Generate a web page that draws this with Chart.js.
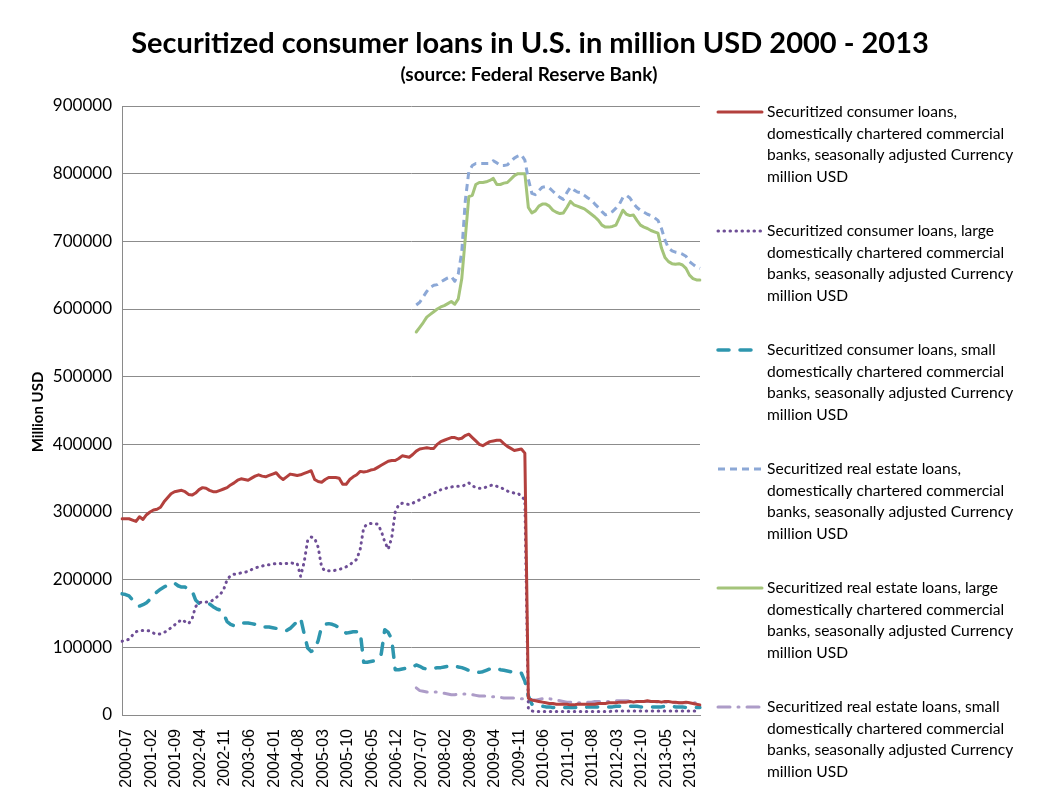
<!DOCTYPE html>
<html>
<head>
<meta charset="utf-8">
<title>Securitized consumer loans</title>
<script src="https://cdn.jsdelivr.net/npm/chart.js@4.4.1/dist/chart.umd.min.js"></script>
<style>
  html, body { margin: 0; padding: 0; background: #fff; }
  #wrap { width: 1039px; height: 794px; }
</style>
</head>
<body>
<div id="wrap"><canvas id="loans-chart" width="1039" height="794"></canvas></div>
<script>
// monthly categories 2000-07 .. 2014-04
const months = [];
let yr = 2000, mo = 7;
while (months.length < 166) {
    months.push(yr + '-' + String(mo).padStart(2, '0'));
    mo++;
    if (mo > 12) { mo = 1; yr++; }
}

const tickLabels = ['2000-07', '2001-02', '2001-09', '2002-04', '2002-11', '2003-06', '2004-01', '2004-08',
    '2005-03', '2005-10', '2006-05', '2006-12', '2007-07', '2008-02', '2008-09', '2009-04', '2009-11',
    '2010-06', '2011-01', '2011-08', '2012-03', '2012-10', '2013-05', '2013-12'];

const yTicks = [0, 100000, 200000, 300000, 400000, 500000, 600000, 700000, 800000, 900000];

// consumer loans, all domestically chartered banks (2000-07 .. 2014-04)
const consumerAll = [
    290000, 290000, 290000, 288000, 286000, 293000, 289000, 296000, 300000, 303000,
    304000, 307000, 315000, 321000, 327000, 330000, 331000, 332000, 330000, 326000,
    325000, 328000, 333000, 336000, 335000, 332000, 330000, 330000, 332000, 334000,
    336000, 340000, 343000, 347000, 349000, 348000, 347000, 350000, 353000, 355000,
    353000, 352000, 354000, 356000, 358000, 352000, 348000, 352000, 356000, 355000,
    354000, 355000, 357000, 359000, 361000, 348000, 345000, 344000, 348000, 351000,
    351000, 351000, 350000, 341000, 341000, 348000, 352000, 355000, 360000, 359000,
    360000, 362000, 363000, 366000, 369000, 372000, 375000, 376000, 376000, 379000,
    383000, 382000, 381000, 385000, 390000, 393000, 394000, 395000, 394000, 394000,
    400000, 404000, 406000, 408000, 410000, 410000, 408000, 409000, 413000, 415000,
    410000, 405000, 400000, 398000, 401000, 404000, 405000, 406000, 406000, 401000,
    397000, 394000, 391000, 392000, 393000, 387000,
    25000, 22000, 21000, 20000, 19000, 18000, 17000, 17000, 16000, 16000,
    16000, 16000, 15000, 15000, 16000, 16000, 16000, 16000, 16000, 16000,
    17000, 17000, 17000, 18000, 18000, 18000, 19000, 19000, 19000, 20000,
    19000, 20000, 20000, 20000, 21000, 20000, 20000, 20000, 19000, 20000,
    20000, 19000, 19000, 18000, 18000, 19000, 18000, 17000, 16000, 15000
];

// consumer loans, large banks
const consumerLarge = [
    109000, 110000, 112000, 118000, 123000, 125000, 125000, 125000, 124000, 121000,
    119000, 120000, 122000, 125000, 129000, 133000, 137000, 141000, 138000, 135000,
    142000, 160000, 166000, 167000, 167000, 167000, 170000, 174000, 178000, 185000,
    200000, 206000, 208000, 209000, 210000, 211000, 212000, 215000, 217000, 219000,
    220000, 222000, 222000, 223000, 224000, 224000, 223000, 224000, 225000, 224000,
    224000, 205000, 226000, 258000, 263000, 261000, 248000, 218000, 213000, 213000,
    213000, 214000, 215000, 217000, 219000, 222000, 226000, 230000, 245000, 277000,
    282000, 283000, 283000, 282000, 272000, 256000, 245000, 262000, 300000, 311000,
    313000, 312000, 311000, 313000, 316000, 318000, 321000, 323000, 326000, 328000,
    330000, 333000, 334000, 336000, 337000, 338000, 338000, 338000, 340000, 343000,
    339000, 336000, 335000, 335000, 337000, 339000, 340000, 338000, 336000, 334000,
    331000, 329000, 328000, 328000, 323000, 318000,
    9000, 6000, 5000, 5000, 5000, 5000, 5000, 5000, 5000, 5000,
    5000, 5000, 5000, 5000, 5000, 5000, 5000, 5000, 5000, 5000,
    5000, 5000, 5000, 5000, 6000, 6000, 6000, 6000, 6000, 6000,
    6000, 6000, 6000, 6000, 6000, 6000, 6000, 6000, 6000, 6000,
    6000, 6000, 6000, 6000, 6000, 6000, 6000, 6000, 6000, 6000
];

// consumer loans, small banks
const consumerSmall = [
    179000, 178000, 176000, 170000, 165000, 161000, 163000, 166000, 171000, 177000,
    182000, 186000, 189000, 192000, 194000, 195000, 191000, 189000, 189000, 186000,
    184000, 170000, 165000, 165000, 164000, 164000, 160000, 157000, 155000, 150000,
    138000, 134000, 132000, 134000, 136000, 136000, 136000, 135000, 134000, 132000,
    130000, 130000, 130000, 129000, 128000, 127000, 125000, 125000, 128000, 133000,
    138000, 143000, 120000, 99000, 94000, 96000, 110000, 131000, 134000, 135000,
    134000, 132000, 129000, 126000, 121000, 122000, 123000, 123000, 123000, 78000,
    78000, 79000, 80000, 82000, 90000, 126000, 122000, 112000, 67000, 67000,
    68000, 69000, 69000, 71000, 74000, 72000, 69000, 68000, 68000, 69000,
    70000, 70000, 71000, 72000, 73000, 72000, 71000, 70000, 68000, 66000,
    65000, 64000, 63000, 64000, 66000, 68000, 69000, 69000, 67000, 66000,
    65000, 64000, 63000, 63000, 62000, 50000,
    28000, 16000, 15000, 14000, 13000, 12000, 12000, 11000, 11000, 11000,
    11000, 11000, 11000, 11000, 11000, 11000, 11000, 12000, 12000, 12000,
    12000, 12000, 12000, 12000, 12000, 13000, 13000, 13000, 13000, 13000,
    13000, 13000, 12000, 12000, 12000, 12000, 12000, 12000, 12000, 13000,
    13000, 13000, 12000, 12000, 12000, 11000, 11000, 11000, 11000, 11000
];

// real estate series start in 2007-07
const noData = new Array(84).fill(null);

const realEstateAll = [
    606000, 610000, 618000, 626000, 632000, 635000, 636000, 640000, 643000, 646000,
    648000, 641000, 652000, 685000, 760000, 803000, 812000, 815000, 815000, 815000,
    815000, 815000, 819000, 816000, 812000, 812000, 813000, 818000, 823000, 826000,
    828000, 820000, 792000, 771000, 769000, 775000, 780000, 781000, 779000, 774000,
    769000, 765000, 762000, 772000, 780000, 776000, 773000, 772000, 768000, 764000,
    761000, 755000, 750000, 744000, 739000, 741000, 744000, 749000, 755000, 765000,
    768000, 764000, 756000, 750000, 746000, 743000, 740000, 738000, 735000, 731000,
    719000, 702000, 690000, 686000, 684000, 683000, 681000, 678000, 670000, 666000,
    662000, 660000
];

const realEstateLarge = [
    566000, 573000, 580000, 588000, 592000, 596000, 600000, 603000, 605000, 608000,
    611000, 607000, 615000, 645000, 705000, 766000, 768000, 784000, 787000, 787000,
    788000, 790000, 793000, 784000, 784000, 786000, 787000, 792000, 797000, 800000,
    800000, 800000, 750000, 742000, 745000, 752000, 755000, 755000, 752000, 746000,
    743000, 741000, 742000, 750000, 759000, 754000, 752000, 750000, 748000, 744000,
    740000, 736000, 731000, 724000, 721000, 721000, 722000, 724000, 735000, 746000,
    740000, 738000, 739000, 731000, 724000, 721000, 719000, 716000, 714000, 712000,
    690000, 676000, 670000, 667000, 666000, 667000, 665000, 660000, 650000, 645000,
    643000, 643000
];

const realEstateSmall = [
    40000, 36000, 35000, 34000, 34000, 34000, 34000, 33000, 32000, 31000,
    30000, 30000, 31000, 31000, 31000, 31000, 30000, 29000, 28000, 28000,
    28000, 27000, 27000, 26000, 26000, 25000, 25000, 25000, 25000, 25000,
    24000, 24000, 23000, 22000, 22000, 23000, 24000, 25000, 24000, 23000,
    22000, 21000, 20000, 19000, 19000, 18000, 18000, 18000, 19000, 19000,
    19000, 20000, 20000, 20000, 20000, 20000, 21000, 21000, 21000, 21000,
    21000, 21000, 20000, 20000, 20000, 20000, 20000, 20000, 20000, 19000,
    19000, 19000, 19000, 19000, 18000, 18000, 18000, 18000, 18000, 18000,
    18000, 17000
];

const seriesNames = [
    ['Securitized consumer loans,', 'domestically chartered commercial', 'banks, seasonally adjusted Currency', 'million USD'],
    ['Securitized consumer loans, large', 'domestically chartered commercial', 'banks, seasonally adjusted Currency', 'million USD'],
    ['Securitized consumer loans, small', 'domestically chartered commercial', 'banks, seasonally adjusted Currency', 'million USD'],
    ['Securitized real estate loans,', 'domestically chartered commercial', 'banks, seasonally adjusted Currency', 'million USD'],
    ['Securitized real estate loans, large', 'domestically chartered commercial', 'banks, seasonally adjusted Currency', 'million USD'],
    ['Securitized real estate loans, small', 'domestically chartered commercial', 'banks, seasonally adjusted Currency', 'million USD']
];

const TEXT_FONT = 'Lato, "Open Sans", sans-serif';

const line = (i, data, color, width, dash, cap) => ({
    label: seriesNames[i].join(' '),
    data: data,
    borderColor: color,
    backgroundColor: color,
    borderWidth: width,
    borderDash: dash,
    borderCapStyle: cap,
    borderJoinStyle: 'round',
    pointRadius: 0,
    pointHoverRadius: 0,
    tension: 0,
    fill: false,
    spanGaps: false
});

/*==================== TITLES + LEGEND ====================*/
const decor = {
    id: 'decor',
    beforeDraw(chart) {
        const c = chart.ctx;
        c.save();
        c.fillStyle = '#fff';
        c.fillRect(0, 0, chart.width, chart.height);
        c.restore();
    },
    afterDraw(chart) {
        const c = chart.ctx;
        c.save();
        c.fillStyle = '#000';
        c.textAlign = 'center';
        c.textBaseline = 'middle';
        c.font = 'bold 29px ' + TEXT_FONT;
        c.fillText('Securitized consumer loans in U.S. in million USD 2000 - 2013', 530, 44);
        c.font = 'bold 19px ' + TEXT_FONT;
        c.fillText('(source: Federal Reserve Bank)', 529, 75);

        // y axis title
        c.save();
        c.translate(38, 412);
        c.rotate(-Math.PI / 2);
        c.font = 'bold 15px ' + TEXT_FONT;
        c.fillText('Million USD', 0, 0);
        c.restore();

        // legend
        c.textAlign = 'left';
        c.font = '15.6px ' + TEXT_FONT;
        chart.data.datasets.forEach((ds, i) => {
            const top = 112 + i * 119;
            c.save();
            c.strokeStyle = ds.borderColor;
            c.lineWidth = ds.borderWidth;
            c.lineCap = ds.borderCapStyle;
            c.setLineDash(ds.borderDash);
            c.beginPath();
            c.moveTo(718, top);
            c.lineTo(762, top);
            c.stroke();
            c.restore();
            seriesNames[i].forEach((txt, k) => c.fillText(txt, 767, top + k * 21.5));
        });
        c.restore();
    }
};

const ctx = document.getElementById('loans-chart').getContext('2d');

new Chart(ctx, {
    type: 'line',
    data: {
        labels: months,
        datasets: [
            line(0, consumerAll, '#B3403D', 3, [], 'round'),
            line(1, consumerLarge, '#6E4E96', 3, [0.5, 5.5], 'round'),
            line(2, consumerSmall, '#2E96AE', 3.5, [11, 11], 'round'),
            line(3, noData.concat(realEstateAll), '#8CA8D6', 3, [7, 5], 'butt'),
            line(4, noData.concat(realEstateLarge), '#A4C47A', 3, [], 'round'),
            line(5, noData.concat(realEstateSmall), '#AD9CC8', 3, [12, 8, 1, 8], 'round')
        ]
    },
    options: {
        responsive: false,
        animation: false,
        layout: { padding: { top: 106, right: 339, bottom: 0, left: 0 } },
        plugins: {
            legend: { display: false },
            title: { display: false },
            tooltip: { enabled: false }
        },
        scales: {
            x: {
                type: 'category',
                offset: false,
                grid: { display: false },
                border: { color: '#8a8a8a', width: 1 },
                ticks: {
                    autoSkip: false,
                    minRotation: 90,
                    maxRotation: 90,
                    padding: 6,
                    labelOffset: 5,
                    color: '#000',
                    font: { family: '"Liberation Sans", Arial, sans-serif', size: 16 },
                    callback: function (val) {
                        const l = this.getLabelForValue(val);
                        return tickLabels.includes(l) ? l : '';
                    }
                },
                afterFit: (scale) => { scale.height = 79; }
            },
            y: {
                min: 0,
                max: 900000,
                afterBuildTicks: (scale) => { scale.ticks = yTicks.map(v => ({ value: v })); },
                grid: { color: '#8c8c8c', lineWidth: 1, drawTicks: false },
                border: { color: '#8a8a8a', width: 1 },
                ticks: {
                    padding: 10,
                    color: '#000',
                    font: { family: TEXT_FONT, size: 17 },
                    callback: (v) => String(v)
                },
                afterFit: (scale) => { scale.width = 122; }
            }
        }
    },
    plugins: [decor]
});
</script>
</body>
</html>
